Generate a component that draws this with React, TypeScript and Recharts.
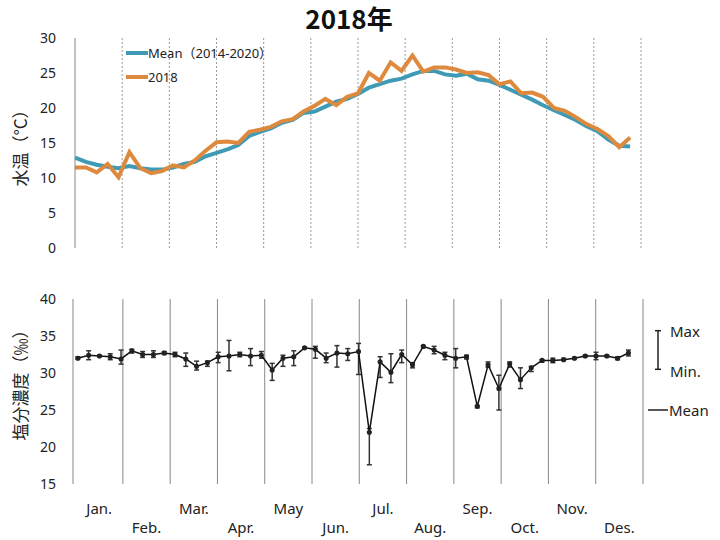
import React from 'react';
import { LineChart, Line, XAxis, YAxis, ReferenceLine, Legend, ErrorBar } from 'recharts';

// weekly points, Jan -> Dec
const weekIndex = Array.from({ length: 52 }, (_, i) => i);

const months = ['Jan.', 'Feb.', 'Mar.', 'Apr.', 'May', 'Jun.', 'Jul.', 'Aug.', 'Sep.', 'Oct.', 'Nov.', 'Des.'];

const tempTicks = [0, 5, 10, 15, 20, 25, 30];
const salTicks = [15, 20, 25, 30, 35, 40];

const seriesNames = ['Mean（2014-2020）', '2018'];

const tempMean = [
  12.9, 12.3, 11.9, 11.6, 11.4, 11.7, 11.4, 11.2, 11.2, 11.5, 12.0, 12.3, 13.1,
  13.6, 14.1, 14.7, 16.0, 16.6, 17.1, 17.9, 18.3, 19.3, 19.5, 20.2, 20.9, 21.3,
  22.0, 22.9, 23.4, 23.9, 24.2, 24.8, 25.3, 25.3, 24.8, 24.6, 24.9, 24.1, 23.9,
  23.3, 22.6, 21.9, 21.2, 20.4, 19.7, 19.0, 18.3, 17.4, 16.7, 15.5, 14.6, 14.5,
];

const temp2018 = [
  11.5, 11.5, 10.8, 12.0, 10.1, 13.7, 11.4, 10.7, 11.0, 11.8, 11.5, 12.5, 13.9,
  15.1, 15.2, 15.0, 16.6, 16.9, 17.3, 18.1, 18.4, 19.5, 20.3, 21.3, 20.4, 21.6,
  22.1, 25.0, 23.9, 26.5, 25.3, 27.5, 25.2, 25.8, 25.8, 25.5, 25.0, 25.1, 24.7,
  23.4, 23.8, 22.1, 22.2, 21.6, 20.0, 19.6, 18.7, 17.7, 17.0, 16.0, 14.4, 15.8,
];

const salMean = [
  32.0, 32.4, 32.3, 32.2, 31.9, 33.0, 32.5, 32.5, 32.7, 32.5, 31.9, 30.9, 31.4,
  32.2, 32.3, 32.5, 32.3, 32.4, 30.4, 32.0, 32.2, 33.4, 33.2, 32.0, 32.7, 32.6,
  32.9, 22.0, 31.5, 30.1, 32.5, 31.1, 33.6, 33.1, 32.4, 32.0, 32.2, 25.5, 31.1,
  27.9, 31.2, 29.1, 30.7, 31.7, 31.7, 31.8, 32.0, 32.3, 32.3, 32.3, 32.0, 32.7,
];

const salMax = [
  32.2, 33.0, 32.4, 32.6, 33.1, 33.2, 32.9, 33.0, 32.9, 32.8, 32.7, 31.6, 31.6,
  32.8, 34.4, 32.8, 33.3, 32.9, 31.3, 32.4, 33.0, 33.5, 33.6, 32.7, 33.7, 33.3,
  34.0, 22.5, 32.2, 32.6, 33.1, 31.4, 33.7, 33.6, 32.8, 33.3, 32.4, 25.6, 31.5,
  29.7, 31.5, 30.7, 30.9, 31.8, 32.0, 32.0, 32.1, 32.4, 32.8, 32.4, 32.2, 33.1,
];

const salMin = [
  31.9, 31.8, 32.2, 31.8, 31.2, 32.7, 32.1, 32.1, 32.5, 32.2, 30.9, 30.4, 30.9,
  31.4, 30.3, 32.2, 31.0, 32.0, 29.0, 30.9, 31.0, 33.3, 32.0, 31.4, 30.8, 31.7,
  29.8, 17.6, 29.4, 28.7, 31.4, 30.7, 33.4, 32.6, 31.8, 30.7, 31.9, 25.3, 30.8,
  25.0, 30.8, 27.9, 30.2, 31.5, 31.4, 31.7, 31.9, 32.2, 31.8, 32.2, 31.8, 32.3,
];

const tempData = weekIndex.map((w, i) => ({ week: w, mean: tempMean[i], y2018: temp2018[i] }));
const salData = weekIndex.map((w, i) => ({
  week: w,
  mean: salMean[i],
  err: [salMean[i] - salMin[i], salMax[i] - salMean[i]],
}));

const FONT = "'Noto Sans', 'Noto Sans CJK JP', sans-serif";
const CJK = "'Noto Sans CJK JP', sans-serif";
const TEXT = '#222';

// month boundaries in week units
const topDomain = [0, 52];
const topBounds = months.map((_, k) => (52 * (k + 1)) / 12);
const botDomain = [-0.45, 52.35];
const botStart = -0.21;
const botMonth = 4.38;
const botBounds = months.map((_, k) => botStart + botMonth * (k + 1));
const botMids = months.map((_, k) => botStart + botMonth * (k + 0.5));

const TempLegend = (props: any) => {
  const items = [...(props.payload || [])].sort(
    (a: any, b: any) => seriesNames.indexOf(a.value) - seriesNames.indexOf(b.value)
  );
  return (
    <div style={{ fontFamily: FONT, fontSize: 13, color: TEXT, lineHeight: 1 }}>
      {items.map((p: any) => (
        <div key={p.value} style={{ display: 'flex', alignItems: 'center', height: 24, whiteSpace: 'nowrap' }}>
          <span style={{ display: 'inline-block', width: 22, height: 4, background: p.color }} />
          <span>{p.value}</span>
        </div>
      ))}
    </div>
  );
};

const MonthTick = (props: any) => {
  const { x, y, payload, index } = props;
  return (
    <text
      x={x}
      y={y + (index % 2 ? 43 : 24)}
      textAnchor="middle"
      dominantBaseline="central"
      fontSize={15}
      fontFamily={FONT}
      fill={TEXT}
    >
      {months[index] ?? payload.value}
    </text>
  );
};

const axisTick = { fill: TEXT, fontSize: 14, fontFamily: FONT };

const App = () => (
  <div style={{ position: 'absolute', left: 0, top: 0, width: 720, height: 540, background: '#fff', fontFamily: FONT }}>
    <div
      style={{
        position: 'absolute', left: 349, top: 18, transform: 'translate(-50%, -50%)', lineHeight: 1,
        fontSize: 26, fontWeight: 'bold', color: '#111', fontFamily: CJK, whiteSpace: 'nowrap',
      }}
    >
      2018年
    </div>

    <div
      style={{
        position: 'absolute', left: 19, top: 144, transform: 'translate(-50%, -50%) rotate(-90deg)',
        fontSize: 17, color: TEXT, fontFamily: CJK, whiteSpace: 'nowrap', lineHeight: 1,
      }}
    >
      水温（°C）
    </div>
    <div
      style={{
        position: 'absolute', left: 19, top: 381, transform: 'translate(-50%, -50%) rotate(-90deg)',
        fontSize: 17, color: TEXT, fontFamily: CJK, whiteSpace: 'nowrap', lineHeight: 1,
      }}
    >
      塩分濃度（‰）
    </div>

    {/* water temperature */}
    <div style={{ position: 'absolute', left: 0, top: 0 }}>
      <LineChart width={720} height={260} data={tempData} margin={{ top: 38, right: 79, bottom: 12, left: 35 }}>
        <XAxis
          type="number"
          dataKey="week"
          domain={topDomain}
          allowDataOverflow
          ticks={[]}
          tick={false}
          tickLine={false}
          height={0}
          axisLine={{ stroke: '#888' }}
        />
        <YAxis
          domain={[0, 30]}
          ticks={tempTicks}
          width={40}
          tick={axisTick}
          tickLine={false}
          tickMargin={13}
          axisLine={{ stroke: '#888' }}
        />
        {topBounds.map((b) => (
          <ReferenceLine key={b} x={b} stroke="#999" strokeDasharray="2 2" />
        ))}
        <Legend
          layout="horizontal"
          verticalAlign="middle"
          align="center"
          content={TempLegend}
          wrapperStyle={{ position: 'absolute', left: 126, top: 41, width: 'auto', height: 'auto' }}
        />
        <Line
          dataKey="mean"
          name={seriesNames[0]}
          stroke="#3f9bb5"
          strokeWidth={4}
          dot={false}
          isAnimationActive={false}
        />
        <Line
          dataKey="y2018"
          name={seriesNames[1]}
          stroke="#de8a3e"
          strokeWidth={4}
          dot={false}
          isAnimationActive={false}
        />
      </LineChart>
    </div>

    {/* salinity */}
    <div style={{ position: 'absolute', left: 0, top: 280 }}>
      <LineChart width={720} height={260} data={salData} margin={{ top: 19, right: 77, bottom: 6, left: 33 }}>
        <XAxis
          xAxisId="main"
          type="number"
          dataKey="week"
          domain={botDomain}
          allowDataOverflow
          ticks={[]}
          tick={false}
          tickLine={false}
          height={0}
          axisLine={{ stroke: '#888' }}
        />
        <XAxis
          xAxisId="months"
          type="number"
          dataKey="week"
          domain={botDomain}
          allowDataOverflow
          ticks={botMids}
          interval={0}
          tick={<MonthTick />}
          tickLine={false}
          tickSize={0}
          tickMargin={0}
          axisLine={false}
          height={50}
        />
        <YAxis
          domain={[15, 40]}
          ticks={salTicks}
          width={40}
          tick={axisTick}
          tickLine={false}
          tickMargin={11}
          axisLine={{ stroke: '#888' }}
        />
        {botBounds.map((b) => (
          <ReferenceLine key={b} xAxisId="main" x={b} stroke="#888" ifOverflow="extendDomain" />
        ))}
        <Line
          xAxisId="main"
          dataKey="mean"
          stroke="#111"
          strokeWidth={1.5}
          dot={{ r: 1.8, fill: '#222', stroke: '#222' }}
          isAnimationActive={false}
        >
          <ErrorBar dataKey="err" direction="y" width={2.5} stroke="#333" strokeWidth={1.5} isAnimationActive={false} />
        </Line>
      </LineChart>
    </div>

    {/* max / min / mean key */}
    <svg style={{ position: 'absolute', left: 640, top: 320 }} width={80} height={110}>
      <g stroke="#222" strokeWidth={1.5}>
        <line x1={18} y1={10.7} x2={18} y2={49.3} />
        <line x1={15} y1={10.7} x2={21} y2={10.7} />
        <line x1={15} y1={49.3} x2={21} y2={49.3} />
        <line x1={8} y1={90} x2={28} y2={90} />
      </g>
      <g fontFamily={FONT} fontSize={15} fill={TEXT} dominantBaseline="central">
        <text x={30} y={11}>Max</text>
        <text x={30} y={51}>Min.</text>
        <text x={29} y={90}>Mean</text>
      </g>
    </svg>
  </div>
);

export default App;
